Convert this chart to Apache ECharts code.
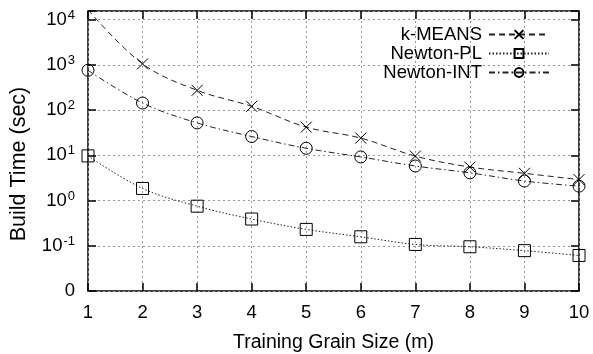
<!DOCTYPE html>
<html><head><meta charset="utf-8">
<script src="https://cdn.jsdelivr.net/npm/echarts@6/dist/echarts.min.js"></script>
<style>html,body{margin:0;padding:0;background:#fff}#c{width:593px;height:354px}</style>
</head><body><div id="c"></div>
<script>
const grainSizes = [1,2,3,4,5,6,7,8,9,10];
const kMeans    = [16500, 1050, 273, 121, 42, 24, 9.6, 5.5, 4.0, 2.9];
const newtonPL  = [9.7, 1.85, 0.75, 0.39, 0.23, 0.158, 0.107, 0.095, 0.078, 0.061];
const newtonINT = [757, 143, 52, 26, 14.3, 9.2, 5.8, 4.1, 2.7, 2.08];
const seriesNames = ['k-MEANS', 'Newton-PL', 'Newton-INT'];
const yTickExponents = [-2,-1,0,1,2,3,4];
const xTitle = 'Training Grain Size (m)';
const yTitle = 'Build Time (sec)';

const FONT = 'Liberation Sans';
const chart = echarts.init(document.getElementById('c'), null, {renderer:'canvas'});
const pairs = v => grainSizes.map((x,i)=>[x, v[i]]);
const crossPath = 'path://M0,0L10,10M10,0L0,10';

function yFmt(v){
  const l = Math.log10(v), e = Math.round(l);
  if (Math.abs(l - e) > 1e-6 || !yTickExponents.includes(e)) return '';
  if (e === -2) return '0';
  return '10{s|' + e + '}';
}
const axisCommon = {
  axisLine:{show:false},
  axisTick:{show:true, inside:true, length:8, lineStyle:{color:'#000', width:1.5}},
};
const mk = (name, data, symbol, size, dash) => ({
  name, type:'line', data: pairs(data), smooth:0.35, clip:true,
  symbol, symbolSize:size, showAllSymbol:true,
  color:'#000',
  lineStyle:{color:'#222', width:1, type:dash},
  itemStyle:{color:'rgba(0,0,0,0)', borderColor:'#000', borderWidth:1},
  emphasis:{disabled:true}
});

chart.setOption({
  animation:false,
  textStyle:{fontFamily:FONT},
  grid:{left:88, right:14, top:11, bottom:63, show:true, borderColor:'#000', borderWidth:1.5,
        backgroundColor:'transparent', containLabel:false, outerBoundsMode:'none'},
  legend:{
    orient:'vertical', right:38, top:20, align:'right', itemWidth:60, itemHeight:11, itemGap:0,
    textStyle:{fontFamily:FONT, fontSize:18.5, color:'#000', lineHeight:18, padding:[0,2,0,0]},
    data: seriesNames
  },
  graphic:[{
    type:'text', x:19, y:164, rotation:Math.PI/2,
    style:{text:yTitle, font:'21.5px "Liberation Sans"', fill:'#000', align:'center', verticalAlign:'middle'}
  }],
  xAxis:[
    Object.assign({type:'value', min:1, max:10, interval:1, position:'bottom',
      axisLabel:{fontFamily:FONT, fontSize:18.5, color:'#000', margin:12},
      splitLine:{show:true, lineStyle:{color:'#999', type:[2,3], width:1}},
      name:xTitle, nameLocation:'middle', nameGap:42,
      nameTextStyle:{fontFamily:FONT, fontSize:19.5, color:'#000'}}, axisCommon),
    Object.assign({type:'value', min:1, max:10, interval:1, position:'top',
      axisLabel:{show:false}, splitLine:{show:false}}, axisCommon)
  ],
  yAxis:[
    Object.assign({type:'log', logBase:10, min:0.01, max:15500, position:'left',
      axisLabel:{fontFamily:FONT, fontSize:18.5, color:'#000', margin:13, formatter:yFmt,
        rich:{s:{fontFamily:FONT, fontSize:13, color:'#000', verticalAlign:'top', padding:[0,0,9,1]}}},
      splitLine:{show:true, lineStyle:{color:'#999', type:[2,3], width:1}}}, axisCommon),
    Object.assign({type:'log', logBase:10, min:0.01, max:15500, position:'right',
      axisLabel:{show:false}, splitLine:{show:false}}, axisCommon)
  ],
  series:[
    mk(seriesNames[0], kMeans, crossPath, 11, [6,4]),
    mk(seriesNames[1], newtonPL, 'rect', 12, [1.5,2]),
    mk(seriesNames[2], newtonINT, 'circle', 12, [6,3,1.5,3])
  ]
});
</script></body></html>
